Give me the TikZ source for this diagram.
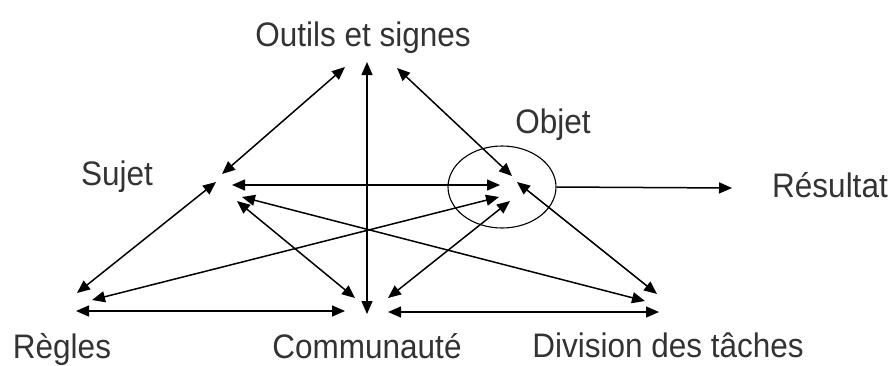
\documentclass[tikz,border=0pt]{standalone}
\usepackage{fontspec}
\setmainfont{Liberation Sans}
\usetikzlibrary{arrows.meta,shapes.geometric}
\begin{document}
\begin{tikzpicture}[x=1pt,y=-1pt,
  lbl/.style={text=black!80,font=\fontsize{31.5}{31.5}\selectfont,inner sep=0pt,anchor=base,yscale=1.08},
  conn/.style={line width=1.5pt,{Triangle[length=13pt,width=11pt]}-{Triangle[length=13pt,width=11pt]}},
  oneway/.style={line width=1.5pt,-{Triangle[length=13pt,width=11pt]}}]
\useasboundingbox (0,0) rectangle (889,365);
% labels
\node[lbl] (outils) at (363,46) {Outils et signes};
\node[lbl] (sujet) at (117,185) {Sujet};
\node[lbl] (objet) at (553,133) {Objet};
\node[lbl] (resultat) at (830,197) {Résultat};
\node[lbl] (regles) at (62,358) {Règles};
\node[lbl] (commu) at (367,358) {Communauté};
\node[lbl] (division) at (668,357) {Division des tâches};
% object ellipse
\node[draw,line width=1.1pt,ellipse,minimum width=108pt,minimum height=82pt,inner sep=0pt] (ell) at (502,187) {};
% endpoints
\coordinate (oT) at (367,62);  \coordinate (cT) at (367,314);
\coordinate (oL) at (345,67);  \coordinate (sU) at (222,174);
\coordinate (oR) at (397,68);  \coordinate (bU) at (512,176);
\coordinate (sR) at (232,185); \coordinate (bL) at (500,185);
\coordinate (rU) at (77,293);  \coordinate (sL) at (216,182);
\coordinate (sD) at (242,197); \coordinate (dL) at (645,301);
\coordinate (sC) at (237,201); \coordinate (cL) at (355,298);
\coordinate (rO) at (92,300);  \coordinate (bW) at (499,197);
\coordinate (cR) at (388,298); \coordinate (bS) at (510,201);
\coordinate (bD) at (517,182); \coordinate (dU) at (657,294);
\coordinate (rR) at (76,311);  \coordinate (cW) at (345,311);
\coordinate (cE) at (388,312); \coordinate (dW) at (659,312);
\coordinate (res) at (732,188);
% connectors
\draw[conn] (oT) -- (cT);
\draw[conn] (oL) -- (sU);
\draw[conn] (oR) -- (bU);
\draw[conn] (sR) -- (bL);
\draw[conn] (rU) -- (sL);
\draw[conn] (sD) -- (dL);
\draw[conn] (sC) -- (cL);
\draw[conn] (rO) -- (bW);
\draw[conn] (cR) -- (bS);
\draw[conn] (bD) -- (dU);
\draw[conn] (rR) -- (cW);
\draw[conn] (cE) -- (dW);
\draw[oneway] (ell.east) -- (res);
\end{tikzpicture}
\end{document}
